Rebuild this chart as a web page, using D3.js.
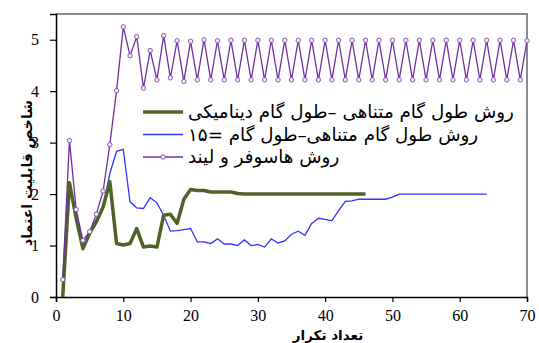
<!DOCTYPE html>
<html lang="fa">
  <head>
    <meta charset="utf-8">
    <title>Reliability index</title>
    <style>
      body { margin: 0; background: #fff; }
    </style>
  </head>
  <body>
  <script src="https://cdn.jsdelivr.net/npm/d3@7/dist/d3.min.js"></script>
  <script>
    // chart values
    var dynamicValues = [0, 2.22, 1.53, 0.94, 1.24, 1.46, 1.75, 2.24, 1.04, 1.01,
      1.04, 1.33, 0.97, 0.99, 0.97, 1.59, 1.61, 1.43, 1.9, 2.09,
      2.07, 2.07, 2.04, 2.04, 2.04, 2.04, 2.01, 2.0, 2.0, 2.0,
      2.0, 2.0, 2.0, 2.0, 2.0, 2.0, 2.0, 2.0, 2.0, 2.0,
      2.0, 2.0, 2.0, 2.0, 2.0, 2.0];
    var step15Values = [0, 2.21, 1.5, 0.97, 1.27, 1.51, 1.75, 2.4, 2.83, 2.87,
      1.85, 1.73, 1.72, 1.93, 1.83, 1.59, 1.28, 1.29, 1.31, 1.33,
      1.07, 1.07, 1.04, 1.13, 1.03, 1.03, 1.0, 1.11, 1.0, 1.02,
      0.97, 1.13, 1.05, 1.09, 1.22, 1.28, 1.2, 1.43, 1.53, 1.51,
      1.48, 1.68, 1.86, 1.87, 1.9, 1.9, 1.9, 1.9, 1.9, 1.94,
      2.0, 2.0, 2.0, 2.0, 2.0, 2.0, 2.0, 2.0, 2.0, 2.0,
      2.0, 2.0, 2.0, 2.0];
    var hlValues = [0.34, 3.04, 1.70, 1.10, 1.27, 1.61, 2.06, 2.96, 4.01, 5.25,
      4.69, 5.06, 4.06, 4.79, 4.22, 5.08, 4.26, 4.98, 4.19, 4.97,
      4.22, 5.0, 4.22, 4.98, 4.22, 4.99, 4.22, 4.99, 4.22, 4.99,
      4.22, 4.99, 4.22, 4.99, 4.22, 4.99, 4.22, 4.99, 4.22, 4.99,
      4.22, 4.99, 4.22, 4.99, 4.22, 4.99, 4.22, 4.99, 4.22, 4.99,
      4.22, 4.99, 4.22, 4.99, 4.22, 4.99, 4.22, 4.99, 4.22, 4.99,
      4.22, 4.99, 4.22, 4.99, 4.22, 4.99, 4.22, 4.99, 4.22, 4.98];
    var xTicks = [0, 10, 20, 30, 40, 50, 60, 70];
    var yTicks = [0, 1, 2, 3, 4, 5];
    var legendLabels = ["روش طول گام متناهی –طول گام دینامیکی",
      "روش طول گام متناهی–طول گام =۱۵",
      "روش هاسوفر و لیند"];
    var xTitle = "تعداد تکرار";
    var yTitle = "شاخص قابلیت اعتماد";

    var width = 539, height = 343;
    var margin = {top: 14, right: 12, bottom: 46, left: 56};

    var svg = d3.select("body").append("svg")
      .attr("width", width).attr("height", height);

    var x = d3.scaleLinear().domain([0, 70]).range([margin.left, width - margin.right]);
    var y = d3.scaleLinear().domain([0, 5.5]).range([height - margin.bottom, margin.top]);

    // grey frame on top and right
    svg.append("path")
      .attr("d", "M" + x(0) + "," + y(5.5) + "H" + x(70) + "V" + y(0))
      .attr("fill", "none").attr("stroke", "#8c8c8c").attr("stroke-width", 2);

    // axes
    var xAxis = svg.append("g")
      .attr("transform", "translate(0," + y(0) + ")")
      .call(d3.axisBottom(x).tickValues(xTicks).tickFormat(d3.format("d"))
        .tickSize(5).tickPadding(8));
    var yAxis = svg.append("g")
      .attr("transform", "translate(" + x(0) + ",0)")
      .call(d3.axisLeft(y).tickValues(yTicks).tickFormat(d3.format("d"))
        .tickSize(6).tickPadding(11));
    [xAxis, yAxis].forEach(function(g) {
      g.attr("font-family", "'Liberation Serif', 'Times New Roman', serif");
      g.select(".domain").attr("stroke", "#000").attr("stroke-width", 1.5);
      g.selectAll(".tick line").attr("stroke", "#000").attr("stroke-width", 1.2);
      g.selectAll("text")
        .style("font-family", "'Liberation Serif', 'Times New Roman', serif")
        .style("font-size", "16px").attr("fill", "#000");
    });

    var line = d3.line()
      .x(function(d, i) { return x(i + 1); })
      .y(function(d) { return y(d); });

    svg.append("path").datum(step15Values)
      .attr("d", line).attr("fill", "none")
      .attr("stroke", "#3333ff").attr("stroke-width", 1.3);

    svg.append("path").datum(dynamicValues)
      .attr("d", line).attr("fill", "none")
      .attr("stroke", "#4f6228").attr("stroke-width", 3.5)
      .attr("stroke-linejoin", "round");

    svg.append("path").datum(hlValues)
      .attr("d", line).attr("fill", "none")
      .attr("stroke", "#7030a0").attr("stroke-width", 1.3);

    svg.selectAll("circle.hl").data(hlValues)
      .enter().append("circle")
      .attr("class", "hl")
      .attr("cx", function(d, i) { return x(i + 1); })
      .attr("cy", function(d) { return y(d); })
      .attr("r", 2.2)
      .attr("fill", "#f3ecf8").attr("stroke", "#8a55b5").attr("stroke-width", 1);

    // legend
    var legendStyles = [
      {color: "#4f6228", w: 3.5, marker: false},
      {color: "#3333ff", w: 1.3, marker: false},
      {color: "#7030a0", w: 1.3, marker: true}
    ];
    var legend = svg.append("g");
    legendLabels.forEach(function(label, i) {
      var ly = 112 + i * 22.5;
      legend.append("line")
        .attr("x1", 143).attr("x2", 183).attr("y1", ly).attr("y2", ly)
        .attr("stroke", legendStyles[i].color).attr("stroke-width", legendStyles[i].w);
      if (legendStyles[i].marker) {
        legend.append("circle").attr("cx", 163).attr("cy", ly).attr("r", 2.2)
          .attr("fill", "#f3ecf8").attr("stroke", "#8a55b5");
      }
      legend.append("text")
        .attr("x", 188).attr("y", ly + 6)
        .style("font-family", "'DejaVu Sans', sans-serif")
        .style("font-size", "18.3px")
        .text(label);
    });

    // titles
    svg.append("text")
      .attr("x", 328).attr("y", 340)
      .attr("text-anchor", "middle")
      .style("font-family", "'DejaVu Sans', sans-serif")
      .style("font-weight", "bold").style("font-size", "13.5px")
      .text(xTitle);
    svg.append("text")
      .attr("transform", "translate(32,173) rotate(-90)")
      .attr("text-anchor", "middle")
      .style("font-family", "'DejaVu Sans', sans-serif")
      .style("font-weight", "bold").style("font-size", "14px")
      .text(yTitle);
  </script>
  </body>
</html>
